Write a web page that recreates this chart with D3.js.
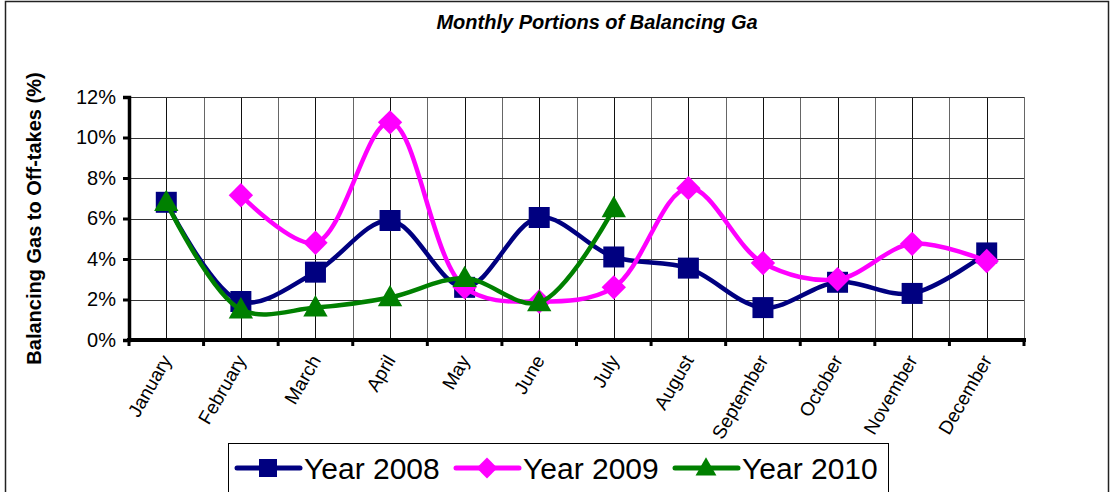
<!DOCTYPE html>
<html>
<head>
<meta charset="utf-8">
<script src="https://cdnjs.cloudflare.com/ajax/libs/d3/7.8.5/d3.min.js"></script>
<style>
	body { margin: 0; background: #fff; }
	svg { font-family: Arial, "Liberation Sans", sans-serif; }
</style>
</head>
<body>
<div></div>
<script>
var months = ["January", "February", "March", "April", "May", "June", "July",
	"August", "September", "October", "November", "December"];

// values in percent, null = no data
var year2008 = [6.8, 1.9, 3.35, 5.9, 2.6, 6.05, 4.1, 3.55, 1.6, 2.85, 2.3, 4.3];
var year2009 = [null, 7.15, 4.8, 10.75, 2.6, 1.9, 2.6, 7.5, 3.8, 3.0, 4.75, 3.9];
var year2010 = [6.8, 1.5, 1.6, 2.1, 3.05, 1.85, 6.5, null, null, null, null, null];

var yTicks = [0, 2, 4, 6, 8, 10, 12];

var seriesNames = ["Year 2008", "Year 2009", "Year 2010"];
var seriesColors = ["#000080", "#ff00ff", "#008000"];
var seriesShapes = ["square", "diamond", "triangle"];

var width = 1112,
	height = 492,
	plot = { left: 129, right: 1024, top: 97, bottom: 340 };

var svgContainer;

function onLoad() {
	svgContainer = d3.select("div")
		.append("svg")
		.attr("width", width)
		.attr("height", height);

	// outer frame
	svgContainer.append("rect")
		.attr("x", 5.5).attr("y", 1.5)
		.attr("width", 1103).attr("height", 500)
		.attr("fill", "none")
		.attr("stroke", "#222")
		.attr("stroke-width", 1.5);

	svgContainer.append("text")
		.attr("x", 597).attr("y", 29)
		.attr("text-anchor", "middle")
		.style("font-size", "20px")
		.style("font-weight", "bold")
		.style("font-style", "italic")
		.text("Monthly Portions of Balancing Ga");

	var xScale = d3.scaleBand().domain(months).range([plot.left, plot.right]);
	var yScale = d3.scaleLinear().domain([0, 12]).range([plot.bottom, plot.top]);

	drawGrid(xScale, yScale);
	drawAxes(xScale, yScale);

	var all = [year2008, year2009, year2010];
	all.forEach(function (values, i) {
		drawSeries(values, xScale, yScale, seriesColors[i], seriesShapes[i]);
	});

	drawLegend();
}

function drawGrid(xScale, yScale) {
	var g = svgContainer.append("g");
	var step = xScale.bandwidth() / 2;
	for (var k = 1; k <= 24; k++) {
		var x = Math.round(plot.left + k * step) + 0.5;
		g.append("line")
			.attr("x1", x).attr("x2", x)
			.attr("y1", plot.top).attr("y2", plot.bottom)
			.attr("stroke", k % 2 ? "#111" : "#666")
			.attr("stroke-width", 1);
	}
	yTicks.forEach(function (t) {
		var y = Math.round(yScale(t)) + 0.5;
		g.append("line")
			.attr("x1", plot.left).attr("x2", plot.right)
			.attr("y1", y).attr("y2", y)
			.attr("stroke", "#333")
			.attr("stroke-width", 1);
	});
}

function drawAxes(xScale, yScale) {
	var yAxis = d3.axisLeft(yScale)
		.tickValues(yTicks)
		.tickFormat(function (d) { return d + "%"; })
		.tickSize(6)
		.tickPadding(7);

	var yg = svgContainer.append("g")
		.attr("transform", "translate(" + plot.left + ",0)")
		.call(yAxis);
	yg.select(".domain").attr("stroke", "#000").attr("stroke-width", 3.5);
	yg.selectAll(".tick line").attr("stroke", "#000").attr("stroke-width", 3);
	yg.selectAll(".tick text")
		.style("font-size", "20px")
		.attr("fill", "#000");

	// x axis: ticks on category boundaries
	var boundaries = d3.range(0, 13).map(function (i) { return plot.left + i * xScale.bandwidth(); });
	var xg = svgContainer.append("g");
	xg.append("line")
		.attr("x1", plot.left - 2).attr("x2", plot.right + 2)
		.attr("y1", plot.bottom).attr("y2", plot.bottom)
		.attr("stroke", "#000").attr("stroke-width", 4);
	boundaries.forEach(function (x) {
		xg.append("line")
			.attr("x1", x).attr("x2", x)
			.attr("y1", plot.bottom).attr("y2", plot.bottom + 6)
			.attr("stroke", "#000").attr("stroke-width", 3);
	});
	months.forEach(function (m) {
		var cx = xScale(m) + xScale.bandwidth() / 2 + 6;
		xg.append("text")
			.attr("transform", "translate(" + cx + "," + (plot.bottom + 20) + ") rotate(-60)")
			.attr("text-anchor", "end")
			.style("font-size", "19px")
			.text(m);
	});

	svgContainer.append("text")
		.attr("transform", "translate(41," + ((plot.top + plot.bottom) / 2) + ") rotate(-90)")
		.attr("text-anchor", "middle")
		.style("font-size", "20px")
		.style("font-weight", "bold")
		.text("Balancing Gas to Off-takes (%)");
}

function markerPath(shape, size) {
	var h = size / 2;
	if (shape === "square") {
		return "M" + (-h) + "," + (-h) + "h" + size + "v" + size + "h" + (-size) + "Z";
	}
	if (shape === "diamond") {
		h = size * 0.58;
		return "M0," + (-h) + "L" + h + ",0L0," + h + "L" + (-h) + ",0Z";
	}
	// triangle
	return "M0," + (-size * 0.6) + "L" + (size * 0.58) + "," + (size * 0.42) + "L" + (-size * 0.58) + "," + (size * 0.42) + "Z";
}

function drawSeries(values, xScale, yScale, color, shape) {
	var points = [];
	values.forEach(function (v, i) {
		if (v !== null) points.push({ x: xScale(months[i]) + xScale.bandwidth() / 2, y: yScale(v) });
	});

	var line = d3.line()
		.x(function (d) { return d.x; })
		.y(function (d) { return d.y; })
		.curve(d3.curveCatmullRom.alpha(0.5));

	svgContainer.append("path")
		.datum(points)
		.attr("d", line)
		.attr("fill", "none")
		.attr("stroke", color)
		.attr("stroke-width", 4.5)
		.attr("stroke-linejoin", "round");

	svgContainer.selectAll(null)
		.data(points)
		.enter()
		.append("path")
		.attr("transform", function (d) { return "translate(" + d.x + "," + d.y + ")"; })
		.attr("d", markerPath(shape, 21))
		.attr("fill", color);
}

function drawLegend() {
	var lg = svgContainer.append("g");
	lg.append("rect")
		.attr("x", 228.5).attr("y", 443.5)
		.attr("width", 660).attr("height", 70)
		.attr("fill", "#fff")
		.attr("stroke", "#000")
		.attr("stroke-width", 1);

	var starts = [237, 456, 675];
	seriesNames.forEach(function (name, i) {
		var x0 = starts[i], y0 = 468;
		lg.append("line")
			.attr("x1", x0).attr("x2", x0 + 63)
			.attr("y1", y0).attr("y2", y0)
			.attr("stroke", seriesColors[i])
			.attr("stroke-width", 5)
			.attr("stroke-linecap", "round");
		lg.append("path")
			.attr("transform", "translate(" + (x0 + 31) + "," + y0 + ")")
			.attr("d", markerPath(seriesShapes[i], 18))
			.attr("fill", seriesColors[i]);
		lg.append("text")
			.attr("x", x0 + 67).attr("y", y0 + 11)
			.style("font-size", "30px")
			.text(name);
	});
}

onLoad();
</script>
</body>
</html>
